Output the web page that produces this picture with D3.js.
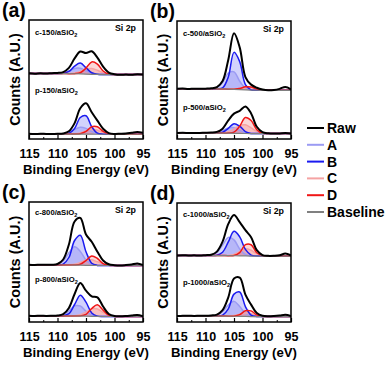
<!DOCTYPE html>
<html>
<head>
<meta charset="utf-8">
<script src="https://cdnjs.cloudflare.com/ajax/libs/d3/7.8.5/d3.min.js"></script>
<style>
  body { margin: 0; background: #fff; }
  svg { display: block; font-family: "Liberation Sans", Arial, sans-serif; font-weight: bold; }
</style>
</head>
<body>
<div id="chart"></div>
<script>
// binding energy grid (eV), shared by every series
const energies = [115, 114, 113, 112, 111, 110, 109, 108, 107, 106, 105, 104, 103, 102, 101, 100, 99, 98, 97, 96, 95];
const xTicks = [115, 110, 105, 100, 95];

const legendNames = ["Raw", "A", "B", "C", "D", "Baseline"];
const legendColors = ["#000000", "#9b9bf3", "#1a1af0", "#f5a3a3", "#f01616", "#808080"];

// c-150 / p-150  (components are heights above the baseline)
const c150Raw = [66.3, 65.8, 66.2, 66, 66.4, 66.6, 67.5, 71.7, 81.3, 88.2, 86.6, 88.4, 82.1, 73, 67, 65.3, 64.7, 65, 64.8, 65.4, 65];
const c150Base = [66, 66, 66, 66, 66, 66, 66, 65.9, 65.8, 65.6, 65.4, 65.2, 65.1, 65, 65, 65, 65, 65, 65, 65, 65];
const c150A = [0, 0, 0, 0, 0, 0.1, 0.8, 2.8, 5.4, 5.7, 3.4, 1.1, 0.2, 0, 0, 0, 0, 0, 0, 0, 0];
const c150B = [0, 0, 0, 0, 0, 0, 0.3, 2.2, 7.7, 11, 6.4, 1.6, 0.2, 0, 0, 0, 0, 0, 0, 0, 0];
const c150C = [0, 0, 0, 0, 0, 0, 0, 0.2, 0.8, 2.6, 5.1, 5.9, 4.2, 1.7, 0.4, 0.1, 0, 0, 0, 0, 0];
const c150D = [0, 0, 0, 0, 0, 0, 0, 0, 0.1, 1.2, 6.1, 12.5, 10.5, 3.6, 0.5, 0, 0, 0, 0, 0, 0];

const p150Raw = [5.2, 5, 5.3, 5.1, 5, 5.2, 5.6, 7.8, 16, 31, 36, 27, 18.5, 10.3, 6, 5.1, 5.3, 5.6, 6.3, 7, 6.3];
const p150Base = [5, 5, 5, 5, 5, 5, 5, 5, 5, 5, 4.9, 4.9, 4.8, 4.8, 4.8, 4.8, 4.8, 4.8, 4.8, 4.8, 4.8];
const p150A = [0, 0, 0, 0, 0, 0, 0.3, 1.7, 4.6, 6.9, 5.8, 2.7, 0.7, 0.1, 0, 0, 0, 0, 0, 0, 0];
const p150B = [0, 0, 0, 0, 0, 0, 0, 0.7, 5.6, 16.7, 18.5, 7.5, 1.1, 0.1, 0, 0, 0, 0, 0, 0, 0];
const p150C = [0, 0, 0, 0, 0, 0, 0, 0, 0.2, 1.2, 3.3, 4.9, 4.1, 1.9, 0.5, 0.1, 0, 0, 0, 0, 0];
const p150D = [0, 0, 0, 0, 0, 0, 0, 0, 0, 0.4, 2.8, 7.5, 7.5, 2.8, 0.4, 0, 0, 0, 0, 0, 0];

// c-500 / p-500
const c500Raw = [51, 51.3, 50.8, 51.2, 51, 51.2, 51.5, 52.8, 58.9, 80.7, 107.5, 93.2, 63, 55.3, 52.1, 50.3, 49.5, 49.8, 51, 53, 50.5];
const c500Base = [51, 51, 51, 51, 51, 51, 51, 51, 50.9, 50.7, 50.5, 50.2, 50, 49.8, 49.6, 49.5, 49.5, 49.5, 49.5, 49.5, 49.5];
const c500A = [0, 0, 0, 0, 0, 0, 0.1, 1.2, 6.6, 16.4, 17.8, 8.5, 1.8, 0.2, 0, 0, 0, 0, 0, 0, 0];
const c500B = [0, 0, 0, 0, 0, 0, 0, 0, 1.0, 12.4, 37.6, 28.5, 5.4, 0.2, 0, 0, 0, 0, 0, 0, 0];
const c500C = [0, 0, 0, 0, 0, 0, 0, 0, 0, 0.1, 0.3, 1.1, 2.1, 2.5, 1.7, 0.7, 0.2, 0, 0, 0, 0];
const c500D = [0, 0, 0, 0, 0, 0, 0, 0, 0, 0, 0.2, 1.1, 3.1, 3.1, 1.1, 0.2, 0, 0, 0, 0, 0];

const p500Raw = [6, 6.3, 6.1, 6, 6.2, 6.3, 6.5, 7.2, 10.5, 18.9, 25.8, 28.7, 33.1, 26, 12.5, 7, 5.8, 5.5, 5.7, 6.1, 5.7];
const p500Base = [6, 6, 6, 6, 6, 6, 6, 6, 6, 5.9, 5.8, 5.7, 5.6, 5.5, 5.5, 5.5, 5.5, 5.5, 5.5, 5.5, 5.5];
const p500A = [0, 0, 0, 0, 0, 0, 0.1, 0.6, 2.5, 5.3, 5.7, 3.0, 0.8, 0.1, 0, 0, 0, 0, 0, 0, 0];
const p500B = [0, 0, 0, 0, 0, 0, 0, 0.1, 0.9, 4.9, 9.8, 7.3, 2.0, 0.2, 0, 0, 0, 0, 0, 0, 0];
const p500C = [0, 0, 0, 0, 0, 0, 0, 0, 0.3, 1.4, 4.3, 7.9, 8.8, 5.9, 2.3, 0.6, 0.1, 0, 0, 0, 0];
const p500D = [0, 0, 0, 0, 0, 0, 0, 0, 0, 0.1, 1.2, 7.3, 16.3, 13.3, 4.0, 0.4, 0, 0, 0, 0, 0];

// c-800 / p-800
const c800Raw = [57.2, 57, 57.3, 57.2, 57.3, 58, 62.5, 77.5, 100.5, 104, 87.5, 80.2, 70.3, 61.5, 57.7, 56.8, 56.5, 56.9, 57.5, 58.5, 57];
const c800Base = [57, 57, 57, 57, 57, 57, 57, 57, 56.9, 56.8, 56.7, 56.6, 56.5, 56.5, 56.5, 56.5, 56.5, 56.5, 56.5, 56.5, 56.5];
const c800A = [0, 0, 0, 0, 0, 0.7, 4.0, 12.2, 18.3, 13.8, 5.2, 1.0, 0.1, 0, 0, 0, 0, 0, 0, 0, 0];
const c800B = [0, 0, 0, 0, 0, 0, 0.9, 7.5, 24.6, 30.0, 13.6, 2.2, 0.1, 0, 0, 0, 0, 0, 0, 0, 0];
const c800C = [0, 0, 0, 0, 0, 0, 0, 0.2, 0.9, 2.7, 5.0, 5.6, 3.7, 1.5, 0.4, 0.1, 0, 0, 0, 0, 0];
const c800D = [0, 0, 0, 0, 0, 0, 0, 0, 0.1, 0.9, 4.7, 9.5, 7.0, 1.9, 0.2, 0, 0, 0, 0, 0, 0];

const p800Raw = [6.2, 6, 6.3, 6.1, 6.2, 6.4, 7.8, 14, 28, 38.9, 31.3, 25.7, 24.6, 15.5, 8, 5.9, 5.7, 6, 6.5, 7, 5.8];
const p800Base = [6, 6, 6, 6, 6, 6, 6, 6, 6, 5.9, 5.8, 5.7, 5.6, 5.5, 5.5, 5.5, 5.5, 5.5, 5.5, 5.5, 5.5];
const p800A = [0, 0, 0, 0, 0, 0.2, 1.3, 5.0, 10.1, 10.1, 5.0, 1.3, 0.2, 0, 0, 0, 0, 0, 0, 0, 0];
const p800B = [0, 0, 0, 0, 0, 0, 0.2, 2.3, 11.5, 20.9, 14.0, 3.4, 0.3, 0, 0, 0, 0, 0, 0, 0, 0];
const p800C = [0, 0, 0, 0, 0, 0, 0, 0, 0.2, 1.3, 4.1, 7.4, 7.4, 4.1, 1.3, 0.2, 0, 0, 0, 0, 0];
const p800D = [0, 0, 0, 0, 0, 0, 0, 0, 0, 0.2, 1.9, 7.8, 11.6, 6.4, 1.3, 0.1, 0, 0, 0, 0, 0];

// c-1000 / p-1000
const c1000Raw = [67, 67.3, 67.1, 67.2, 67, 67.4, 67.8, 71, 81, 98.9, 107.8, 100.7, 92.6, 85.5, 72.5, 67.5, 66.7, 66.8, 67.3, 69, 67.3];
const c1000Base = [67, 67, 67, 67, 67, 67, 67, 67, 67, 66.9, 66.8, 66.7, 66.6, 66.5, 66.5, 66.5, 66.5, 66.5, 66.5, 66.5, 66.5];
const c1000A = [0, 0, 0, 0, 0, 0, 0.4, 3.0, 10.6, 18.4, 16.0, 7.0, 1.5, 0.2, 0, 0, 0, 0, 0, 0, 0];
const c1000B = [0, 0, 0, 0, 0, 0, 0, 0.4, 3.4, 13.8, 24.6, 19.2, 6.6, 1.0, 0.1, 0, 0, 0, 0, 0, 0];
const c1000C = [0, 0, 0, 0, 0, 0, 0, 0, 0, 0.2, 1.4, 4.4, 7.2, 5.8, 2.4, 0.5, 0.1, 0, 0, 0, 0];
const c1000D = [0, 0, 0, 0, 0, 0, 0, 0, 0, 0, 0.3, 3.3, 11.4, 11.4, 3.3, 0.3, 0, 0, 0, 0, 0];

const p1000Raw = [6, 6.2, 6.4, 6.1, 6.3, 6.2, 6.6, 7.5, 12, 24.9, 43.8, 44.7, 27.6, 17.5, 9, 6.3, 5.8, 6, 6.5, 7.3, 6.1];
const p1000Base = [6, 6, 6, 6, 6, 6, 6, 6, 6, 5.9, 5.8, 5.7, 5.6, 5.5, 5.5, 5.5, 5.5, 5.5, 5.5, 5.5, 5.5];
const p1000A = [0, 0, 0, 0, 0, 0, 0.1, 0.8, 4.3, 11.3, 15.0, 9.9, 3.2, 0.5, 0, 0, 0, 0, 0, 0, 0];
const p1000B = [0, 0, 0, 0, 0, 0, 0, 0, 0.9, 7.4, 22.3, 24.6, 10.0, 1.5, 0.1, 0, 0, 0, 0, 0, 0];
const p1000C = [0, 0, 0, 0, 0, 0, 0, 0, 0, 0.1, 0.7, 2.1, 3.5, 2.8, 1.1, 0.2, 0, 0, 0, 0, 0];
const p1000D = [0, 0, 0, 0, 0, 0, 0, 0, 0, 0, 0.1, 1.7, 5.7, 5.7, 1.7, 0.1, 0, 0, 0, 0, 0];


const width = 387, height = 365;

const panels = [
  { tag: "(a)", x0: 29, x1: 143, y0: 20, y1: 139, topLabel: 15, lowLabel: 46,
    spectra: [
      { name: "c-150", raw: c150Raw, base: c150Base, comps: [c150A, c150B, c150C, c150D] },
      { name: "p-150", raw: p150Raw, base: p150Base, comps: [p150A, p150B, p150C, p150D] }] },
  { tag: "(b)", x0: 177, x1: 291, y0: 21, y1: 139, topLabel: 15, lowLabel: 29,
    spectra: [
      { name: "c-500", raw: c500Raw, base: c500Base, comps: [c500A, c500B, c500C, c500D] },
      { name: "p-500", raw: p500Raw, base: p500Base, comps: [p500A, p500B, p500C, p500D] }] },
  { tag: "(c)", x0: 29, x1: 143, y0: 202, y1: 322, topLabel: 13, lowLabel: 40,
    spectra: [
      { name: "c-800", raw: c800Raw, base: c800Base, comps: [c800A, c800B, c800C, c800D] },
      { name: "p-800", raw: p800Raw, base: p800Base, comps: [p800A, p800B, p800C, p800D] }] },
  { tag: "(d)", x0: 177, x1: 291, y0: 203, y1: 322, topLabel: 14, lowLabel: 37,
    spectra: [
      { name: "c-1000", raw: c1000Raw, base: c1000Base, comps: [c1000A, c1000B, c1000C, c1000D] },
      { name: "p-1000", raw: p1000Raw, base: p1000Base, comps: [p1000A, p1000B, p1000C, p1000D] }] }
];

// A, B, C, D styling
const compLine = [legendColors[1], legendColors[2], legendColors[3], legendColors[4]];
const compFill = ["#8c8cf0", "#5a5af5", "#f29a9a", "#f06a6a"];
const compOpacity = [0.32, 0.27, 0.32, 0.27];

const svg = d3.select("#chart")
  .append("svg")
  .attr("width", width)
  .attr("height", height);

panels.forEach(p => {
  const x = d3.scaleLinear().domain([115, 95]).range([p.x0, p.x1]);
  const y = d3.scaleLinear().domain([0, 120]).range([p.y1, p.y0]);
  const g = svg.append("g");

  const clipId = "clip" + p.tag.replace(/\W/g, "");
  g.append("clipPath").attr("id", clipId)
    .append("rect")
    .attr("x", p.x0).attr("y", p.y0)
    .attr("width", p.x1 - p.x0).attr("height", p.y1 - p.y0);

  const plot = g.append("g").attr("clip-path", `url(#${clipId})`);

  p.spectra.forEach(s => {
    const area = d3.area()
      .x((d, i) => x(energies[i]))
      .y0((d, i) => y(s.base[i]))
      .y1((d, i) => y(s.base[i] + d))
      .curve(d3.curveCatmullRom.alpha(0.5));
    const line = d3.line()
      .x((d, i) => x(energies[i]))
      .y((d, i) => y(s.base[i] + d))
      .curve(d3.curveCatmullRom.alpha(0.5));

    plot.append("g")
      .selectAll("path")
      .data(s.comps)
      .join("path")
      .attr("d", area)
      .attr("fill", (d, k) => compFill[k])
      .attr("fill-opacity", (d, k) => compOpacity[k]);

    // light components first, strong ones on top
    [0, 2, 1, 3].forEach(k => {
      plot.append("path")
        .datum(s.comps[k])
        .attr("d", line)
        .attr("fill", "none")
        .attr("stroke", compLine[k])
        .attr("stroke-width", 1.5);
    });

    plot.append("path")
      .datum(s.base)
      .attr("d", d3.line().x((d, i) => x(energies[i])).y(d => y(d)))
      .attr("fill", "none")
      .attr("stroke", legendColors[5])
      .attr("stroke-width", 1.2);

    plot.append("path")
      .datum(s.raw)
      .attr("d", d3.line().x((d, i) => x(energies[i])).y(d => y(d)).curve(d3.curveCatmullRom.alpha(0.5)))
      .attr("fill", "none")
      .attr("stroke", "#000")
      .attr("stroke-width", 2);
  });

  // frame
  g.append("rect")
    .attr("x", p.x0).attr("y", p.y0)
    .attr("width", p.x1 - p.x0).attr("height", p.y1 - p.y0)
    .attr("fill", "none")
    .attr("stroke", "#000")
    .attr("stroke-width", 1.5);

  // bottom axis, ticks pointing inward
  const axis = g.append("g")
    .attr("transform", `translate(0,${p.y1})`)
    .call(d3.axisBottom(x).tickValues(xTicks).tickSize(-4).tickPadding(10).tickFormat(d3.format("d")));
  axis.select(".domain").remove();
  axis.selectAll(".tick line").attr("stroke", "#000").attr("stroke-width", 1.2);
  axis.selectAll("text")
    .attr("font-size", 12.5)
    .attr("font-weight", "bold")
    .attr("font-family", "Liberation Sans, Arial, sans-serif")
    .attr("fill", "#000");
  g.append("g")
    .attr("transform", `translate(0,${p.y1})`)
    .call(d3.axisBottom(x).tickValues(d3.range(112.5, 95, -5)).tickSize(-2).tickFormat(""))
    .call(a => a.select(".domain").remove());

  g.append("text")
    .attr("x", (p.x0 + p.x1) / 2)
    .attr("y", p.y1 + 35)
    .attr("text-anchor", "middle")
    .attr("font-size", 13.2)
    .text("Binding Energy (eV)");

  g.append("text")
    .attr("transform", `translate(${p.x0 - 14},${(p.y0 + p.y1) / 2}) rotate(-90)`)
    .attr("text-anchor", "middle")
    .attr("dy", "0.35em")
    .attr("font-size", 14.5)
    .text("Counts (A.U.)");

  g.append("text")
    .attr("x", p.x0 - 27)
    .attr("y", p.y0 - 3)
    .attr("font-size", 19.5)
    .text(p.tag);

  g.append("text")
    .attr("x", p.x1 - 7)
    .attr("y", p.y0 + 11)
    .attr("text-anchor", "end")
    .attr("font-size", 8.8)
    .text("Si 2p");

  const labelY = [p.y0 + p.topLabel, y(p.lowLabel)];
  p.spectra.forEach((s, j) => {
    const t = g.append("text")
      .attr("x", p.x0 + 6)
      .attr("y", labelY[j])
      .attr("font-size", 7.7);
    t.append("tspan").text(s.name + "/aSiO");
    t.append("tspan").attr("font-size", 5.5).attr("dy", 2).text("2");
  });
});

// legend
const legend = svg.append("g")
  .selectAll("g")
  .data(legendNames)
  .join("g")
  .attr("transform", (d, i) => `translate(307,${128 + i * 16.8})`);

legend.append("line")
  .attr("x1", 0).attr("x2", 17)
  .attr("stroke", (d, i) => legendColors[i])
  .attr("stroke-width", 2);

legend.append("text")
  .attr("x", 20)
  .attr("dy", "0.35em")
  .attr("font-size", 14)
  .text(d => d);
</script>
</body>
</html>
